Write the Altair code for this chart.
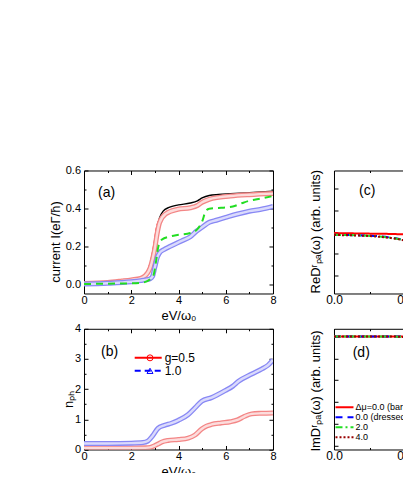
import altair as alt
import pandas as pd

FONT = "Liberation Sans"

# ---------------- panel (a): current I vs eV/omega0 ----------------
a_black_x = [0, 1, 2, 2.4, 2.6, 2.75, 2.9, 3.0, 3.1, 3.2, 3.35, 3.6, 4.0, 4.5, 4.8, 5.0, 5.3, 5.7, 6.2, 7.0, 7.5, 8.0]
a_black_y = [0.005, 0.01, 0.02, 0.03, 0.05, 0.08, 0.15, 0.22, 0.30, 0.35, 0.385, 0.405, 0.418, 0.428, 0.44, 0.455, 0.468, 0.473, 0.477, 0.483, 0.487, 0.49]

a_red_x = [0, 1, 1.6, 2, 2.4, 2.6, 2.7, 2.8, 2.9, 3.0, 3.1, 3.2, 3.47, 3.97, 4.5, 4.8, 5.0, 5.3, 5.7, 6.2, 7.0, 8.0]
a_red_y = [0.003, 0.008, 0.016, 0.022, 0.03, 0.045, 0.06, 0.085, 0.13, 0.19, 0.27, 0.325, 0.372, 0.395, 0.403, 0.415, 0.432, 0.448, 0.458, 0.465, 0.472, 0.478]

a_reddash_x = [0, 2, 2.5, 2.75, 2.9, 3.0, 3.1, 3.2, 3.4, 4.0, 4.5, 5.0, 5.5, 6.2, 7.0, 8.0]
a_reddash_y = [0.003, 0.021, 0.035, 0.08, 0.15, 0.22, 0.30, 0.335, 0.362, 0.396, 0.403, 0.432, 0.452, 0.465, 0.472, 0.478]

a_green_x = [0, 1, 2, 2.5, 2.8, 2.95, 3.05, 3.15, 3.3, 3.6, 4.0, 4.5, 4.8, 5.0, 5.15, 5.3, 5.7, 6.0, 6.3, 6.7, 7.0, 7.5, 8.0]
a_green_y = [0.0, 0.002, 0.004, 0.008, 0.025, 0.05, 0.12, 0.2, 0.235, 0.25, 0.26, 0.27, 0.29, 0.33, 0.385, 0.398, 0.402, 0.405, 0.41, 0.428, 0.44, 0.452, 0.465]

a_blue_x = [0, 1, 2, 2.4, 2.6, 2.8, 2.9, 3.0, 3.1, 3.2, 3.4, 3.55, 4.13, 4.5, 4.77, 5.0, 5.3, 5.6, 6.0, 6.5, 7.0, 7.5, 8.0]
a_blue_y = [0.0, 0.004, 0.012, 0.018, 0.022, 0.028, 0.04, 0.09, 0.14, 0.165, 0.183, 0.193, 0.228, 0.25, 0.28, 0.30, 0.326, 0.337, 0.352, 0.37, 0.385, 0.395, 0.41]

# ---------------- panel (b): n_ph vs eV/omega0 ----------------
b_labels = ["g=0.5", "\u20071.0"]
b_red_x = [0, 1, 2, 2.6, 2.8, 3.0, 3.13, 3.3, 3.56, 4.0, 4.41, 4.7, 4.98, 5.2, 5.4, 5.8, 6.2, 6.5, 6.8, 7.1, 7.5, 8.0]
b_red_y = [0.05, 0.05, 0.05, 0.055, 0.07, 0.13, 0.18, 0.25, 0.30, 0.33, 0.38, 0.48, 0.68, 0.78, 0.83, 0.88, 0.92, 0.98, 1.1, 1.18, 1.2, 1.21]
b_blue_x = [0, 1, 2, 2.5, 2.7, 2.9, 3.13, 3.4, 3.7, 4.0, 4.4, 4.7, 4.98, 5.4, 5.97, 6.3, 6.54, 7.1, 7.53, 7.8, 8.0]
b_blue_y = [0.2, 0.2, 0.21, 0.23, 0.28, 0.45, 0.7, 0.8, 0.87, 0.97, 1.15, 1.38, 1.6, 1.72, 1.95, 2.1, 2.26, 2.5, 2.67, 2.8, 2.97]

# ---------------- panels (c), (d): Re / Im D^r(omega) ----------------
cd_labels = ["Δμ=0.0 (bare)", "\u2007\u2007\u2007\u2007\u20070.0 (dressed)",
             "\u2007\u2007\u2007\u2007\u20072.0", "\u2007\u2007\u2007\u2007\u20074.0"]
cd_x = [0, 0.1, 0.2, 0.3, 0.4, 0.45, 0.5, 0.55, 0.6, 0.65]
c_red = [-0.04, -0.05, -0.06, -0.07, -0.08, -0.09, -0.1, -0.11, -0.13, -0.15]
c_blue = [-0.12, -0.13, -0.15, -0.18, -0.25, -0.3, -0.37, -0.48, -0.68, -0.9]
c_green = [-0.12, -0.13, -0.15, -0.19, -0.26, -0.31, -0.38, -0.5, -0.7, -0.92]
c_dred = [-0.13, -0.14, -0.16, -0.2, -0.27, -0.32, -0.39, -0.51, -0.71, -0.94]
d_red = [0, 0, 0, 0, 0, 0, 0, 0, 0, 0]
d_blue = [0, 0, 0, 0, 0, 0, -0.02, -0.06, -0.12, -0.2]
d_green = [0, 0, 0, 0, 0, -0.01, -0.03, -0.1, -0.2, -0.3]
d_dred = [0, 0, 0, 0, 0, -0.01, -0.04, -0.12, -0.22, -0.32]

panel_tags = ["(a)", "(b)", "(c)", "(d)"]

# ---------------- styles ----------------
RED = "#ff0000"
BLUE = "#0000ff"
GREEN = "#22dd22"
DRED = "#990000"
RED_EDGE, RED_FILL = "#f38686", "#fcdcdc"
BLUE_EDGE, BLUE_FILL = "#8888f4", "#dadafc"
CD_COLORS = [RED, BLUE, GREEN, DRED]
CD_DASH = [[1, 0], [7, 5], [7, 3, 2, 3], [2, 2]]


def xy(x, y, **extra):
    d = {"x": x, "y": y}
    d.update(extra)
    return pd.DataFrame(d)


def scales(xdom, ydom):
    return (alt.Scale(domain=xdom, nice=False, zero=False),
            alt.Scale(domain=ydom, nice=False, zero=False))


def line(df, xs, ys, **mark):
    mark.setdefault("interpolate", "monotone")
    mark.setdefault("clip", True)
    return alt.Chart(df).mark_line(**mark).encode(
        x=alt.X("x:Q", scale=xs, axis=None),
        y=alt.Y("y:Q", scale=ys, axis=None))


def band(x, y, xs, ys, edge, fill):
    d = xy(x, y)
    return [line(d, xs, ys, color=edge, strokeWidth=5),
            line(d, xs, ys, color=fill, strokeWidth=2.4)]


def tag(text, px, py):
    return alt.Chart(pd.DataFrame({"t": [text]})).mark_text(
        align="left", baseline="alphabetic", fontSize=14, font=FONT, color="black"
    ).encode(text="t:N", x=alt.value(px), y=alt.value(py))


def tick_axis(orient, offset, values, size):
    return alt.Axis(orient=orient, offset=offset, values=values, tickSize=size,
                    ticks=True, labels=False, domain=False, grid=False, title=None,
                    tickColor="black", tickWidth=1)


def axis_layers(df, xs, ys, W, H, xlab, ylab, xmaj, xmin, ymaj, ymin):
    base = alt.Chart(df).mark_point(opacity=0)
    out = [base.encode(x=alt.X("x:Q", scale=xs, axis=xlab),
                       y=alt.Y("y:Q", scale=ys, axis=ylab))]
    for xo, yo in [("top", "right"), ("bottom", "left")]:
        for vx, vy, sz in [(xmaj, ymaj, 4), (xmin, ymin, 2)]:
            out.append(base.encode(
                x=alt.X("x:Q", scale=xs, axis=tick_axis(xo, -H, vx, sz)),
                y=alt.Y("y:Q", scale=ys, axis=tick_axis(yo, -W, vy, sz))))
    return out


def xaxis(values, fmt, title, size, ty):
    return alt.Axis(orient="bottom", values=values, format=fmt, ticks=False, domain=False,
                    grid=False, labelFontSize=size, labelPadding=1.5, labelFlush=False,
                    labelOverlap=False, title=title, titleFontSize=13,
                    titleBaseline="alphabetic", titleY=ty)


def yaxis(values, fmt, title, tx, ty, labels=True):
    return alt.Axis(orient="left", values=values, format=fmt, ticks=False, domain=False,
                    grid=False, labels=labels, labelFontSize=11, labelPadding=3.5,
                    labelFlush=False, labelOverlap=False, title=title, titleFontSize=13,
                    titleBaseline="alphabetic", titleX=tx, titleY=ty)


# ---------------- panel (a) ----------------
WA, HA = 189, 123
xs, ys = scales([0, 8], [-0.05, 0.6])
a_layers = [line(xy(a_black_x, a_black_y), xs, ys, color="black", strokeWidth=1.4),
            line(xy(a_reddash_x, a_reddash_y), xs, ys, color=RED, strokeWidth=2.6, strokeDash=[4, 2])]
a_layers += band(a_red_x, a_red_y, xs, ys, RED_EDGE, RED_FILL)
a_layers += band(a_blue_x, a_blue_y, xs, ys, BLUE_EDGE, BLUE_FILL)
a_layers.append(line(xy(a_green_x, a_green_y), xs, ys, color=GREEN, strokeWidth=2, strokeDash=[7, 5]))
a_layers.append(tag(panel_tags[0], 14, 26.5))
a_layers += axis_layers(xy(a_black_x, a_black_y), xs, ys, WA, HA,
                        xaxis([0, 2, 4, 6, 8], "d", "eV/ω₀", 11, 26.5),
                        yaxis([0, 0.2, 0.4, 0.6], ".1f", "current I(eΓ/ħ)", -25, 71),
                        [0, 2, 4, 6, 8], [1, 3, 5, 7], [0, 0.2, 0.4, 0.6], [0.1, 0.3, 0.5])
panel_a = alt.layer(*a_layers).resolve_axis(x="independent", y="independent").properties(
    width=WA, height=HA)

# ---------------- panel (b) ----------------
WB, HB = 189, 120.7
xs, ys = scales([0, 8], [0, 4])
b_leg = pd.concat([xy(b_red_x, b_red_y, g=b_labels[0], g2="m1"),
                   xy(b_blue_x, b_blue_y, g=b_labels[1], g2="m2")])
leg_line = alt.Legend(title=None, orient="none", legendX=49.7, legendY=23.2, symbolType="stroke",
                      symbolSize=729, symbolStrokeWidth=2, clipHeight=11.7, labelFontSize=12,
                      labelOffset=2, labelFont=FONT, labelColor="black", padding=0, rowPadding=0,
                      zindex=1)
leg_mark = alt.Legend(title=None, orient="none", legendX=60, legendY=23.2, symbolSize=36,
                      symbolStrokeWidth=1, symbolFillColor="white", clipHeight=11.7,
                      labelExpr="''", labelOpacity=0, labelFontSize=12, padding=0, rowPadding=0,
                      zindex=2)
b_line_leg = alt.Chart(b_leg).mark_line(opacity=0).encode(
    x=alt.X("x:Q", scale=xs, axis=None), y=alt.Y("y:Q", scale=ys, axis=None),
    color=alt.Color("g:N", scale=alt.Scale(domain=b_labels, range=[RED, BLUE]), legend=leg_line),
    strokeDash=alt.StrokeDash("g:N", scale=alt.Scale(domain=b_labels, range=[[1, 0], [6, 4]]),
                              legend=leg_line))
b_mark_leg = alt.Chart(b_leg).mark_point(opacity=0, filled=False).encode(
    x=alt.X("x:Q", scale=xs, axis=None), y=alt.Y("y:Q", scale=ys, axis=None),
    stroke=alt.Stroke("g2:N", scale=alt.Scale(domain=["m1", "m2"], range=[RED, BLUE]), legend=leg_mark),
    shape=alt.Shape("g2:N", scale=alt.Scale(domain=["m1", "m2"], range=["circle", "triangle-up"]),
                    legend=leg_mark))
b_layers = [b_line_leg, b_mark_leg]
b_layers += band(b_red_x, b_red_y, xs, ys, RED_EDGE, RED_FILL)
b_layers += band(b_blue_x, b_blue_y, xs, ys, BLUE_EDGE, BLUE_FILL)
b_layers.append(tag(panel_tags[1], 17, 27))
b_layers += axis_layers(xy(b_red_x, b_red_y), xs, ys, WB, HB,
                        xaxis([0, 2, 4, 6, 8], "d", "eV/ω₀", 11, 26.5),
                        yaxis([0, 1, 2, 3, 4], "d", "nₚₕ", -11.3, 70),
                        [0, 2, 4, 6, 8], [1, 3, 5, 7], [0, 1, 2, 3, 4], [0.5, 1.5, 2.5, 3.5])
panel_b = alt.layer(*b_layers).resolve_axis(x="independent", y="independent").resolve_scale(
    color="independent", stroke="independent", strokeDash="independent", shape="independent").properties(
    width=WB, height=HB)

# ---------------- panel (c) ----------------
WC = 120
xdom_cd = [0, WC / 142.0]
xs, ys = scales(xdom_cd, [-2.83, 2.85])
c_layers = []
for vals, col, dash in zip([c_red, c_blue, c_green, c_dred], CD_COLORS, CD_DASH):
    c_layers.append(line(xy(cd_x, vals), xs, ys, color=col, strokeWidth=2, strokeDash=dash))
c_layers.append(tag(panel_tags[2], 25, 24.5))
c_layers += axis_layers(xy(cd_x, c_red), xs, ys, WC, HA,
                        xaxis([0, 0.5], ".1f", None, 12, 26.5),
                        yaxis([-2, -1, 0, 1, 2], "d", "ReDʳₚₐ(ω) (arb. units)", -14.7, 60.7, labels=False),
                        [0, 0.5], [0.25, 0.75], [-2, -1, 0, 1, 2], [])
panel_c = alt.layer(*c_layers).resolve_axis(x="independent", y="independent").properties(
    width=WC, height=HA)

# ---------------- panel (d) ----------------
xs, ys = scales(xdom_cd, [-5.16, 0.35])
d_df = pd.concat([xy(cd_x, vals, mu=lab) for vals, lab in
                  zip([d_red, d_blue, d_green, d_dred], cd_labels)])
leg_d = alt.Legend(title=None, orient="none", legendX=0.5, legendY=74.1, symbolType="stroke",
                   symbolSize=324, symbolStrokeWidth=2, clipHeight=8.5, labelFontSize=9,
                   labelOffset=1, labelFont=FONT, labelColor="black", padding=0, rowPadding=0)
d_lines = alt.Chart(d_df).mark_line(strokeWidth=2, clip=True, interpolate="monotone").encode(
    x=alt.X("x:Q", scale=xs, axis=None), y=alt.Y("y:Q", scale=ys, axis=None),
    color=alt.Color("mu:N", scale=alt.Scale(domain=cd_labels, range=CD_COLORS), legend=leg_d),
    strokeDash=alt.StrokeDash("mu:N", scale=alt.Scale(domain=cd_labels, range=CD_DASH), legend=leg_d))
d_layers = [d_lines, tag(panel_tags[3], 18.7, 28.7)]
d_layers += axis_layers(xy(cd_x, d_red), xs, ys, WC, HB,
                        xaxis([0, 0.5], ".1f", None, 12, 26.5),
                        yaxis([-5, -4, -3, -2, -1, 0], "d", "ImDʳₚₐ(ω) (arb. units)", -14.7, 61.7, labels=False),
                        [0, 0.5], [0.25, 0.75], [-5, -4, -3, -2, -1, 0], [])
panel_d = alt.layer(*d_layers).resolve_axis(x="independent", y="independent").properties(
    width=WC, height=HB)

RES = dict(color="independent", stroke="independent", strokeDash="independent", shape="independent")
chart = alt.concat(panel_a, panel_c, panel_b, panel_d, columns=2,
                   spacing=alt.RowColnumber(row=35.3, column=61), bounds="flush").resolve_scale(**RES).properties(
    padding={"left": 40, "top": 155.5, "right": -52.5, "bottom": -6.8}, background="white"
).configure(font=FONT).configure_view(stroke="black", strokeWidth=1).configure_axis(
    labelFont=FONT, titleFont=FONT, labelColor="black", titleColor="black", titleFontWeight="normal"
).configure_legend(labelFont=FONT, symbolBaseFillColor="white")

chart.save("out.html", embed_options={"renderer": "svg", "actions": False})
